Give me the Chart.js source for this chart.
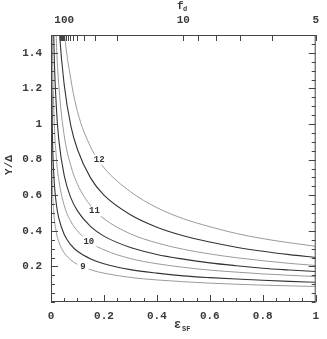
<!DOCTYPE html>
<html>
<head>
<meta charset="utf-8">
<script src="https://cdn.jsdelivr.net/npm/chart.js@4.4.1/dist/chart.umd.min.js"></script>
<style>
  html, body { margin: 0; padding: 0; background: #fff; }
  #wrap { width: 327px; height: 339px; }
</style>
</head>
<body>
<div id="wrap"><canvas id="grafica"></canvas></div>
<script>
// eficiencia de formacion estelar (eje x)
const eps = [0.002, 0.005, 0.01, 0.02, 0.03, 0.05, 0.075, 0.1, 0.15, 0.2, 0.3, 0.4, 0.5, 0.6, 0.7, 0.8, 0.9, 1.0];

// curvas Y/Delta
const curva12  = [8.4, 5.2, 3.6, 2.49, 2.01, 1.53, 1.25, 1.07, 0.87, 0.755, 0.62, 0.53, 0.468, 0.423, 0.385, 0.356, 0.333, 0.313];
const curva115 = [6.3, 3.9, 2.74, 1.91, 1.56, 1.22, 0.99, 0.857, 0.696, 0.6, 0.49, 0.42, 0.372, 0.337, 0.308, 0.285, 0.266, 0.25];
const curva11  = [4.76, 2.99, 2.11, 1.48, 1.21, 0.934, 0.765, 0.662, 0.54, 0.468, 0.383, 0.332, 0.296, 0.27, 0.249, 0.232, 0.217, 0.205];
const curva105 = [3.27, 2.12, 1.52, 1.10, 0.905, 0.71, 0.585, 0.512, 0.423, 0.37, 0.306, 0.267, 0.241, 0.22, 0.204, 0.19, 0.18, 0.171];
const curva10  = [2.27, 1.51, 1.11, 0.815, 0.681, 0.542, 0.453, 0.399, 0.333, 0.293, 0.244, 0.215, 0.195, 0.179, 0.168, 0.158, 0.15, 0.143];
const curva95  = [1.42, 0.974, 0.733, 0.552, 0.468, 0.379, 0.321, 0.285, 0.242, 0.215, 0.182, 0.162, 0.147, 0.137, 0.129, 0.122, 0.116, 0.111];
const curva9   = [0.951, 0.669, 0.512, 0.392, 0.336, 0.276, 0.236, 0.211, 0.181, 0.162, 0.138, 0.124, 0.114, 0.106, 0.0998, 0.0948, 0.0906, 0.087];

// etiquetas de contorno y donde caen (en unidades de datos)
const etiquetas = ["12", "11", "10", "9"];
const etiqEps = [0.182, 0.164, 0.143, 0.121];
const etiqVal = [0.80, 0.51, 0.341, 0.196];

// ticks
const xMayores = [0, 0.2, 0.4, 0.6, 0.8, 1];
const yMayores = [0.2, 0.4, 0.6, 0.8, 1, 1.2, 1.4];
const fdTicks = [5, 6, 7, 8, 9, 10, 20, 30, 40, 50, 60, 70, 80, 90, 100, 110, 120, 130, 140, 150];
const fdEtiquetas = [100, 10, 5];

const FUENTE = "'Liberation Mono', 'DejaVu Sans Mono', monospace";
const GRIS = "#9a9a9a";
const OSCURO = "#333333";
const TEXTO = "#3a3a3a";

function casi(a, b) { return Math.abs(a - b) < 1e-6; }
function esMayor(lista, v) { return lista.some(m => casi(m, v)); }

function serie(vals, color, ancho) {
    return {
        data: eps.map((e, i) => ({ x: e, y: vals[i] })),
        borderColor: color,
        borderWidth: ancho,
        pointRadius: 0,
        fill: false,
        cubicInterpolationMode: "monotone"
    };
}

const decoracion = {
    id: "decoracion",
    afterDatasetsDraw(chart) {
        const { ctx, scales } = chart;
        ctx.save();
        ctx.font = "bold 9px " + FUENTE;
        ctx.textAlign = "center";
        ctx.textBaseline = "middle";
        etiquetas.forEach((t, i) => {
            const px = scales.x.getPixelForValue(etiqEps[i]);
            const py = scales.y.getPixelForValue(etiqVal[i]);
            const w = ctx.measureText(t).width + 6;
            ctx.fillStyle = "#fff";
            ctx.fillRect(px - w / 2, py - 5, w, 10);
            ctx.fillStyle = "#333";
            ctx.fillText(t, px, py);
        });
        ctx.restore();
    },
    afterDraw(chart) {
        const { ctx, chartArea: a, scales } = chart;
        ctx.save();
        ctx.strokeStyle = "#444";
        ctx.lineWidth = 1;
        ctx.beginPath();
        // abajo
        scales.x.ticks.forEach(t => {
            const px = Math.round(scales.x.getPixelForValue(t.value)) + 0.5;
            const len = esMayor(xMayores, t.value) ? 7 : 4;
            ctx.moveTo(px, a.bottom); ctx.lineTo(px, a.bottom - len);
        });
        // arriba (f_d)
        scales.x2.ticks.forEach(t => {
            const px = Math.round(scales.x2.getPixelForValue(t.value)) + 0.5;
            ctx.moveTo(px, a.top); ctx.lineTo(px, a.top + 6);
        });
        // izquierda y derecha
        scales.y.ticks.forEach(t => {
            const py = Math.round(scales.y.getPixelForValue(t.value)) + 0.5;
            const len = esMayor(yMayores, t.value) ? 7 : 4;
            ctx.moveTo(a.left, py); ctx.lineTo(a.left + len, py);
            ctx.moveTo(a.right, py); ctx.lineTo(a.right - len, py);
        });
        ctx.stroke();
        ctx.strokeRect(a.left + 0.5, a.top + 0.5, a.right - a.left - 1, a.bottom - a.top - 1);

        // titulos de ejes
        ctx.fillStyle = TEXTO;
        ctx.textBaseline = "alphabetic";
        ctx.textAlign = "left";
        ctx.font = "bold 11px " + FUENTE;
        ctx.fillText("f", 177, 9);
        ctx.font = "bold 7px " + FUENTE;
        ctx.fillText("d", 183, 11);

        ctx.font = "bold 12px " + FUENTE;
        ctx.fillText("ε", 174, 328);
        ctx.font = "bold 7px " + FUENTE;
        ctx.fillText("SF", 182, 331);

        ctx.translate(9, 165);
        ctx.rotate(-Math.PI / 2);
        ctx.textAlign = "center";
        ctx.textBaseline = "middle";
        ctx.font = "bold 11px " + FUENTE;
        ctx.fillText("Y/Δ", 0, 0);
        ctx.restore();
    }
};

const ctx = document.getElementById("grafica").getContext("2d");

new Chart(ctx, {
    type: "line",
    data: {
        datasets: [
            serie(curva12, GRIS, 1),
            serie(curva115, OSCURO, 1.1),
            serie(curva11, GRIS, 1),
            serie(curva105, OSCURO, 1.1),
            serie(curva10, GRIS, 1),
            serie(curva95, OSCURO, 1.1),
            serie(curva9, GRIS, 1)
        ]
    },
    options: {
        responsive: true,
        maintainAspectRatio: false,
        animation: false,
        layout: { padding: { left: 0, right: 10, top: 0, bottom: 0 } },
        plugins: {
            legend: { display: false },
            tooltip: { enabled: false }
        },
        scales: {
            x: {
                type: "linear",
                position: "bottom",
                min: 0,
                max: 1,
                afterBuildTicks: s => {
                    const t = [];
                    for (let i = 0; i <= 20; i++) t.push({ value: i * 0.05 });
                    s.ticks = t;
                },
                afterFit: s => { s.height = 37; },
                grid: { display: false, drawTicks: false },
                border: { display: false },
                ticks: {
                    autoSkip: false,
                    maxRotation: 0,
                    padding: 8,
                    color: TEXTO,
                    font: { family: FUENTE, size: 11, weight: "bold" },
                    callback: v => esMayor(xMayores, v) ? String(+v.toFixed(1)) : ""
                }
            },
            x2: {
                type: "linear",
                position: "top",
                min: 0,
                max: 1,
                afterBuildTicks: s => { s.ticks = fdTicks.map(f => ({ value: 5 / f })); },
                afterFit: s => { s.height = 35; },
                grid: { display: false, drawTicks: false },
                border: { display: false },
                ticks: {
                    autoSkip: false,
                    maxRotation: 0,
                    padding: 8,
                    color: TEXTO,
                    font: { family: FUENTE, size: 11, weight: "bold" },
                    callback: v => {
                        const f = Math.round(5 / v);
                        return fdEtiquetas.includes(f) ? String(f) : "";
                    }
                }
            },
            y: {
                type: "linear",
                position: "left",
                min: 0,
                max: 1.5,
                afterBuildTicks: s => {
                    const t = [];
                    for (let i = 0; i <= 30; i++) t.push({ value: i * 0.05 });
                    s.ticks = t;
                },
                afterFit: s => { s.width = 51; },
                grid: { display: false, drawTicks: false },
                border: { display: false },
                ticks: {
                    autoSkip: false,
                    padding: 9,
                    color: TEXTO,
                    font: { family: FUENTE, size: 11, weight: "bold" },
                    callback: v => esMayor(yMayores, v) ? String(+v.toFixed(1)) : ""
                }
            }
        }
    },
    plugins: [decoracion]
});
</script>
</body>
</html>
